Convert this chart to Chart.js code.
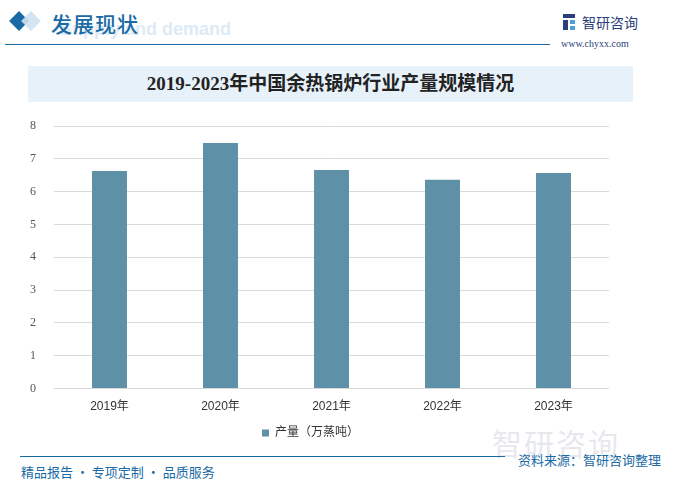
<!DOCTYPE html>
<html><head><meta charset="utf-8">
<script src="https://cdn.jsdelivr.net/npm/chart.js@4"></script>
<style>
html,body{margin:0;padding:0;background:#fff;}
#wrap{position:relative;width:683px;height:491px;overflow:hidden;font-family:"Noto Sans CJK SC","Noto Sans",sans-serif;}
.abs{position:absolute;}
#c{position:absolute;left:0;top:0;}
</style></head>
<body>
<div id="wrap">
  <div class="abs" style="left:12px;top:14px;width:14px;height:14px;background:#1A6AA5;transform:rotate(45deg);"></div>
  <div class="abs" style="left:24px;top:14px;width:14px;height:14px;background:#CFE2F0;transform:rotate(45deg);opacity:.9"></div>
  <div class="abs" style="left:60px;top:19px;font:bold 18px Arial,sans-serif;color:#DDEBF6;letter-spacing:0px;">Supply and demand</div>
  <div class="abs" style="left:51px;top:8px;font-size:21px;font-weight:500;color:#1A6AA5;letter-spacing:1px;">发展现状</div>
  <div class="abs" style="left:5px;top:44px;width:545px;height:1px;background:#1A6AA5;"></div>
  <div class="abs" style="left:563px;top:14px;width:12px;height:16px;">
    <div class="abs" style="left:0;top:0;width:12px;height:4px;background:#2C3E7A"></div>
    <div class="abs" style="left:0;top:6px;width:5px;height:10px;background:#2C3E7A"></div>
    <div class="abs" style="left:7px;top:6px;width:5px;height:4px;background:#4C9FD8"></div>
    <div class="abs" style="left:7px;top:12px;width:5px;height:4px;background:#4C9FD8"></div>
  </div>
  <div class="abs" style="left:582px;top:12px;font-size:14px;color:#2C3E7A;">智研咨询</div>
  <div class="abs" style="left:561px;top:38px;font:10px 'Liberation Serif',serif;color:#2C3E7A;">www.chyxx.com</div>

  <div class="abs" style="left:28px;top:66px;width:605px;height:36px;background:#E6F1F9;"></div>
  <div class="abs" style="left:28px;top:66px;width:605px;height:36px;line-height:36px;text-align:center;font-size:19px;font-weight:bold;color:#222;font-family:'Liberation Serif','Noto Sans CJK SC',serif;">2019-2023年中国余热锅炉行业产量规模情况</div>

  <div class="abs" style="left:492px;top:420px;font-size:30px;color:#C9CED8;opacity:.45;letter-spacing:2px;">智研咨询</div>
  <div class="abs" style="left:20px;top:456px;width:485px;height:1px;background:#1A6AA5;"></div>
  <div class="abs" style="left:21px;top:462px;font-size:13px;color:#1A6AA5;">精品报告 · 专项定制 · 品质服务</div>
  <div class="abs" style="left:518px;top:450px;font-size:13px;color:#1A6AA5;">资料来源：智研咨询整理</div>

  <canvas id="c" width="683" height="491"></canvas>
</div>
<script>
const categories = ["2019年","2020年","2021年","2022年","2023年"];
const seriesName = "产量（万蒸吨）";
const production = [6.63, 7.48, 6.66, 6.36, 6.57];
const yTicks = [0,1,2,3,4,5,6,7,8];

new Chart(document.getElementById('c'), {
  type: 'bar',
  data: {
    labels: categories,
    datasets: [{
      label: seriesName,
      data: production,
      backgroundColor: '#5E91A7',
      categoryPercentage: 1.0,
      barPercentage: 0.315
    }]
  },
  options: {
    responsive: false,
    animation: false,
    layout: { padding: { left: 12, right: 74, top: 126, bottom: 42 } },
    plugins: {
      legend: {
        position: 'bottom',
        labels: { boxWidth: 7, boxHeight: 7, color: '#333', font: { size: 12, family: "'Liberation Sans','Noto Sans CJK SC',sans-serif" } }
      },
      tooltip: { enabled: false }
    },
    scales: {
      x: {
        grid: { display: false },
        border: { display: false },
        ticks: { color: '#333', font: { size: 12, family: "'Liberation Sans','Noto Sans CJK SC',sans-serif" } }
      },
      y: {
        min: 0, max: 8,
        afterBuildTicks: ax => { ax.ticks = yTicks.map(v => ({ value: v })); },
        grid: { color: '#D9D9D9', drawTicks: false },
        border: { display: false },
        ticks: { color: '#555', padding: 18, font: { size: 12, family: "'Liberation Serif',serif" } }
      }
    }
  }
});
</script>
</body></html>
